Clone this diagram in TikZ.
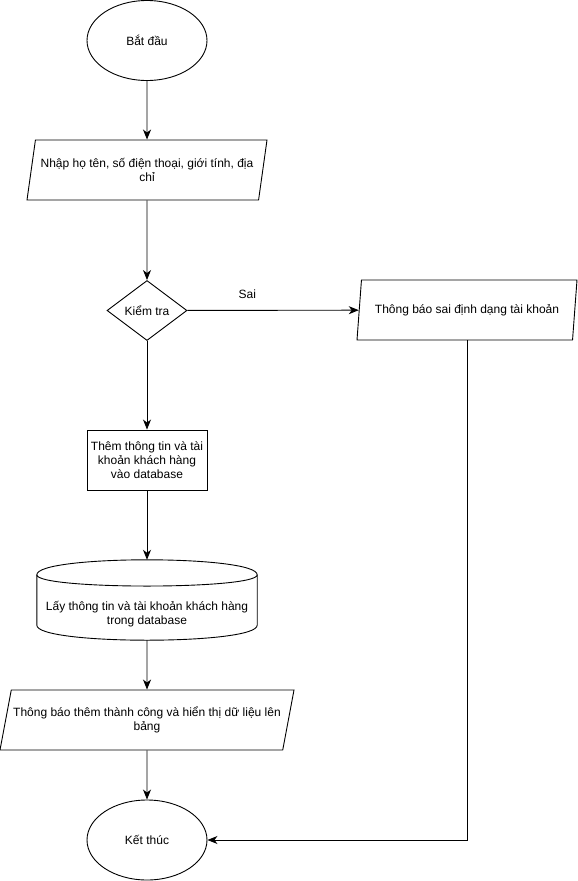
\documentclass[tikz,border=0pt]{standalone}
\usepackage{fontspec}
\setmainfont{Liberation Sans}
\usetikzlibrary{shapes.geometric,arrows.meta}
\tikzset{
	box/.style={draw, line width=0.9pt, align=center, inner sep=1pt,
			font=\fontsize{12}{14}\selectfont},
	terminal/.style={box, ellipse, minimum width=120pt, minimum height=80pt},
	io/.style={box, trapezium, trapezium left angle=#1, trapezium right angle=180-#1,
			trapezium stretches body, minimum height=60pt},
	process/.style={box, rectangle, minimum width=120pt, minimum height=60pt},
	decision/.style={box, diamond, aspect=1.333, minimum width=80pt, minimum height=60pt},
	flow/.style={line width=0.9pt, -{Stealth[length=10pt,width=8pt,inset=3pt]}}
}

\begin{document}
\begin{tikzpicture}[x=1pt,y=-1pt]
	\useasboundingbox (0,0) rectangle (578,881);
	% steps, top to bottom
	\node [terminal] (start) at (147,40.5) {Bắt đầu};
	\node [io=71.6, minimum width=240pt] (input) at (147,170)
	{Nhập họ tên, số điện thoại, giới tính, địa\\chỉ};
	\node [decision] (check) at (147,310.5) {Kiểm tra};
	\node [io=71.6, minimum width=220pt] (warn) at (467,310)
	{Thông báo sai định dạng tài khoản};
	\node [process] (insert) at (147,460)
	{Thêm thông tin và tài\\khoản khách hàng\\vào database};
	% database drum
	\node [rectangle, minimum width=220pt, minimum height=80pt, inner sep=0pt] (db) at (147,600) {};
	\draw [line width=0.9pt] ([yshift=-15pt]db.north west)
	.. controls ([yshift=5pt]db.north west) and ([yshift=5pt]db.north east) .. ([yshift=-15pt]db.north east)
	-- ([yshift=15pt]db.south east)
	.. controls ([yshift=-5pt]db.south east) and ([yshift=-5pt]db.south west) .. ([yshift=15pt]db.south west)
	-- cycle;
	\draw [line width=0.9pt] ([yshift=-15pt]db.north west)
	.. controls ([yshift=-30pt]db.north west) and ([yshift=-30pt]db.north east) .. ([yshift=-15pt]db.north east);
	\node [align=center, font=\fontsize{12}{14}\selectfont] (dbtext) at ([yshift=-14pt]db.center)
	{Lấy thông tin và tài khoản khách hàng\\trong database};
	\node [io=68.2, minimum width=294pt] (show) at (147,720)
	{Thông báo thêm thành công và hiển thị dữ liệu lên\\bảng};
	\node [terminal] (end) at (147,840) {Kết thúc};
	% connectors
	\draw [flow] (start) -- (input);
	\draw [flow] (input) -- (check);
	\draw [flow] (check) -- node [pos=0.35, above=8pt, font=\fontsize{12}{14}\selectfont] {Sai} (warn);
	\draw [flow] (check) -- (insert);
	\draw [flow] (insert) -- (db.north);
	\draw [flow] (db.south) -- (show);
	\draw [flow] (show) -- (end);
	\draw [flow] (warn.south) |- (end.east);
\end{tikzpicture}
\end{document}
